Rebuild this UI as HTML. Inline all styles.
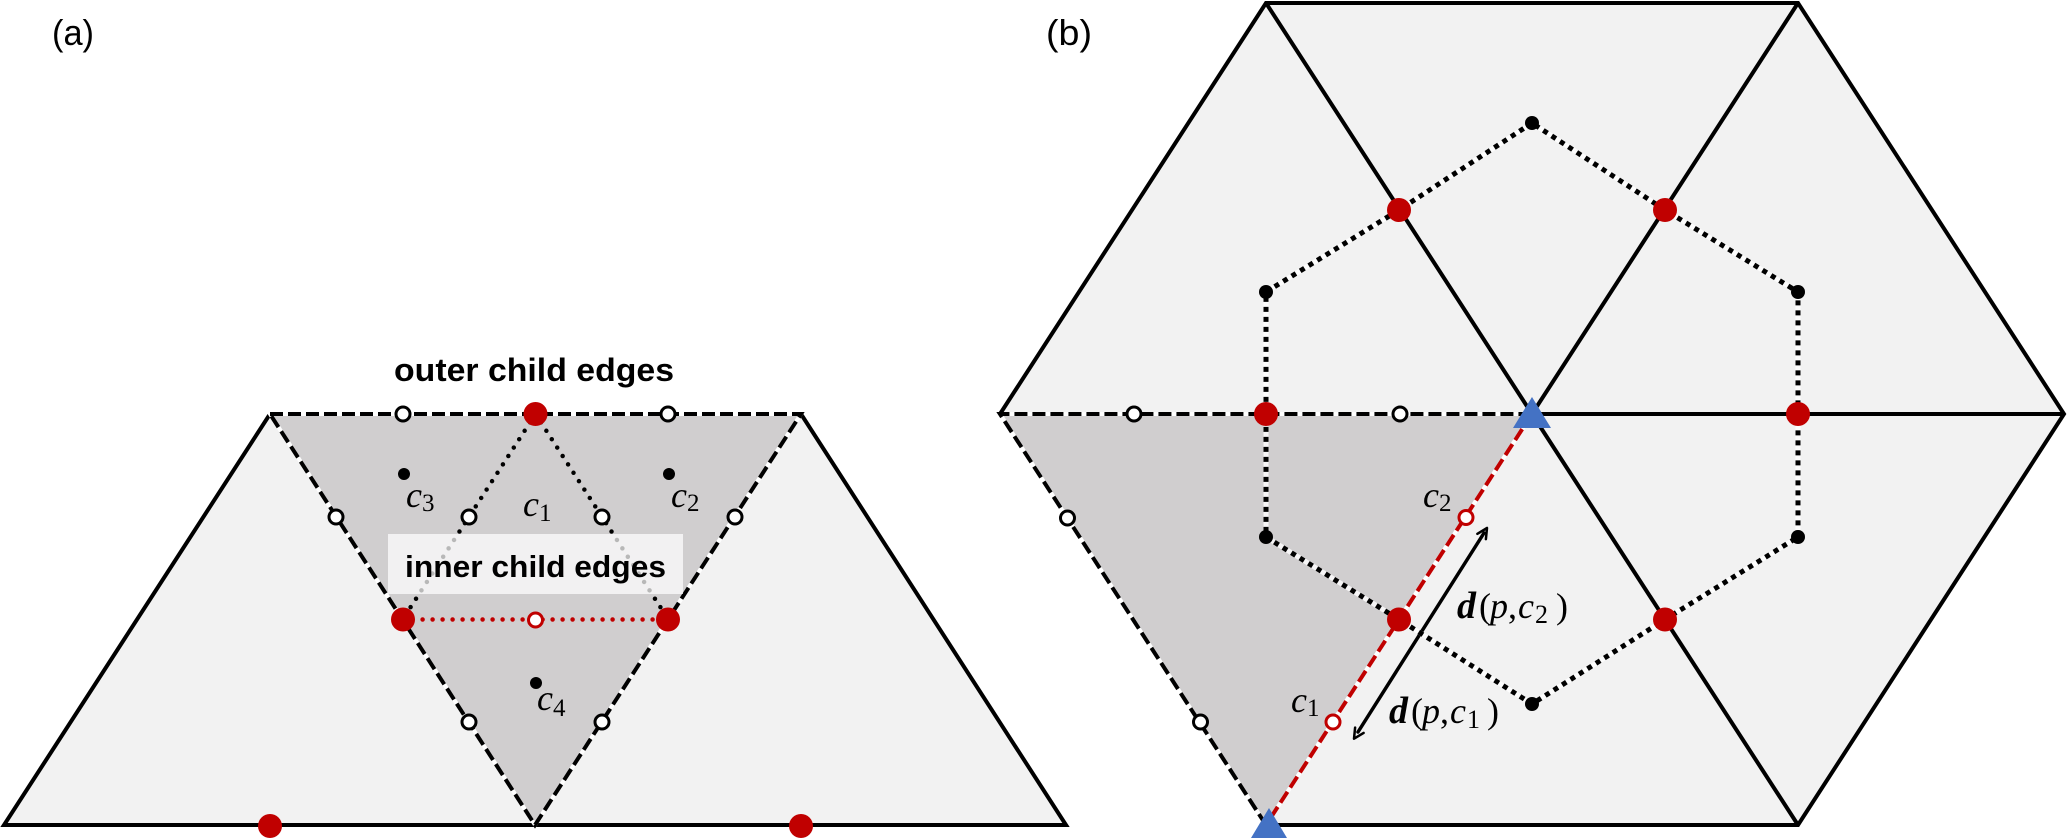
<!DOCTYPE html>
<html><head><meta charset="utf-8"><style>
html,body{margin:0;padding:0;background:#fff;}
svg{display:block;}
.lbl{font-family:"Liberation Sans",sans-serif;}
.b{font-family:"Liberation Sans",sans-serif;font-weight:bold;}
.m{font-family:"Liberation Serif",serif;}
</style></head><body>
<svg width="2067" height="840" viewBox="0 0 2067 840" xmlns="http://www.w3.org/2000/svg">
<rect width="2067" height="840" fill="#fff"/>

<!-- ============ PANEL (a) ============ -->
<text class="lbl" x="52" y="45" font-size="36" textLength="42" lengthAdjust="spacingAndGlyphs">(a)</text>

<polygon points="4,825 270,414 535,825" fill="#f2f2f2"/>
<polygon points="535,825 801,414 1066,825" fill="#f2f2f2"/>
<polygon points="270,414 801,414 535,825" fill="#d0cecf"/>

<path d="M270,414 L4,825 L1066,825 L801,414" fill="none" stroke="#000" stroke-width="4" stroke-linejoin="miter"/>
<g fill="none" stroke-width="4">
<path d="M270,414 L801,414 L535,825 Z" stroke="#fff"/>
<path d="M270,414 L801,414 L535,825 Z" stroke="#000" stroke-dasharray="13 5"/>
</g>

<g fill="none" stroke-width="4.5" stroke-linecap="round">
<path d="M535.5,414 L402.6,619.5 M535.5,414 L668.4,619.5" stroke="#000" stroke-dasharray="0 10"/>
<path d="M402.6,619.5 L668.4,619.5" stroke="#c00000" stroke-dasharray="0 10"/>
</g>

<rect x="388" y="534" width="295" height="60" fill="#fff" fill-opacity="0.72"/>
<text class="b" x="405" y="577" font-size="31" textLength="261" lengthAdjust="spacingAndGlyphs">inner child edges</text>
<text class="b" x="394" y="381" font-size="32" textLength="280" lengthAdjust="spacingAndGlyphs">outer child edges</text>

<g fill="#fff" stroke="#000" stroke-width="3">
<circle cx="403" cy="414" r="7"/>
<circle cx="668" cy="414" r="7"/>
<circle cx="336" cy="517" r="7"/>
<circle cx="469" cy="722" r="7"/>
<circle cx="735" cy="517" r="7"/>
<circle cx="602" cy="722" r="7"/>
<circle cx="469" cy="517" r="7"/>
<circle cx="602" cy="517" r="7"/>
</g>
<circle cx="535.5" cy="620" r="7" fill="#fff" stroke="#c00000" stroke-width="3"/>

<g fill="#c00000">
<circle cx="535.5" cy="414" r="12"/>
<circle cx="403" cy="619.5" r="12"/>
<circle cx="668" cy="619.5" r="12"/>
<circle cx="270" cy="826" r="12"/>
<circle cx="801" cy="826" r="12"/>
</g>

<g fill="#000">
<circle cx="404" cy="474" r="6"/>
<circle cx="669" cy="474" r="6"/>
<circle cx="536" cy="683" r="6"/>
</g>

<g class="m" font-size="36">
<text x="406" y="507"><tspan font-style="italic">c</tspan><tspan font-size="25" dy="4">3</tspan></text>
<text x="523" y="516"><tspan font-style="italic">c</tspan><tspan font-size="25" dy="5">1</tspan></text>
<text x="671" y="507"><tspan font-style="italic">c</tspan><tspan font-size="25" dy="4">2</tspan></text>
<text x="537" y="710"><tspan font-style="italic">c</tspan><tspan font-size="25" dy="6">4</tspan></text>
</g>

<!-- ============ PANEL (b) ============ -->
<text class="lbl" x="1046" y="45" font-size="36" textLength="46" lengthAdjust="spacingAndGlyphs">(b)</text>

<polygon points="1000,414 1266,3 1798,3 2064,414 1798,825 1266,825" fill="#f2f2f2"/>
<polygon points="1000,414 1532,414 1266,825" fill="#d0cecf"/>

<g fill="none" stroke="#000" stroke-width="4" stroke-linejoin="miter">
<path d="M1000,414 L1266,3 L1798,3 L2064,414 L1798,825 L1266,825"/>
<path d="M1266,3 L1532,414 L1798,3"/>
<path d="M1532,414 L2064,414"/>
<path d="M1532,414 L1798,825"/>
</g>

<g fill="none" stroke-width="4">
<path d="M1266,825 L1000,414 L1532,414" stroke="#fff"/>
<path d="M1266,825 L1000,414 L1532,414" stroke="#000" stroke-dasharray="13 5"/>
<path d="M1532,414 L1266,825" stroke="#fff"/>
<path d="M1532,414 L1266,825" stroke="#c00000" stroke-dasharray="13 5"/>
</g>

<g fill="none" stroke="#000" stroke-linecap="round" stroke-linejoin="round">
<line x1="1358" y1="732" x2="1484" y2="533" stroke-width="3.5"/>
<path d="M1477.4,533.8 L1487,528 L1485.9,539.1" stroke-width="2.5"/>
<path d="M1363.6,732.9 L1354,738.7 L1355.1,727.6" stroke-width="2.5"/>
</g>

<g fill="none" stroke-width="5">
<path d="M1532,123 L1399,210 L1266,292 L1266,414 L1266,537 L1399,619.5 L1532,704 L1665,619.5 L1798,537 L1798,414 L1798,292 L1665,210 Z" stroke="#fff" stroke-opacity="0.8"/>
<path d="M1532,123 L1399,210 L1266,292 L1266,414 L1266,537 L1399,619.5 L1532,704 L1665,619.5 L1798,537 L1798,414 L1798,292 L1665,210 Z" stroke="#000" stroke-dasharray="5 5"/>
</g>

<g fill="#fff" stroke="#000" stroke-width="3">
<circle cx="1134" cy="414" r="7"/>
<circle cx="1400" cy="414" r="7"/>
<circle cx="1067.5" cy="518" r="7"/>
<circle cx="1200.5" cy="722" r="7"/>
</g>
<g fill="#fff" stroke="#c00000" stroke-width="3">
<circle cx="1466" cy="517.5" r="7"/>
<circle cx="1333" cy="722" r="7"/>
</g>

<g fill="#c00000">
<circle cx="1399" cy="210" r="12"/>
<circle cx="1665" cy="210" r="12"/>
<circle cx="1266" cy="414" r="12"/>
<circle cx="1798" cy="414" r="12"/>
<circle cx="1399" cy="619.5" r="12"/>
<circle cx="1665" cy="619.5" r="12"/>
</g>

<g fill="#000">
<circle cx="1532" cy="123" r="7"/>
<circle cx="1266" cy="292" r="7"/>
<circle cx="1798" cy="292" r="7"/>
<circle cx="1266" cy="537" r="7"/>
<circle cx="1798" cy="537" r="7"/>
<circle cx="1532" cy="704" r="7"/>
</g>

<polygon points="1532,397 1513,428 1551,428" fill="#4472c4"/>
<polygon points="1269,808 1251,838 1287,838" fill="#4472c4"/>

<g class="m" font-size="36">
<text x="1423" y="507"><tspan font-style="italic">c</tspan><tspan font-size="25" dy="4">2</tspan></text>
<text x="1291" y="712"><tspan font-style="italic">c</tspan><tspan font-size="25" dy="4">1</tspan></text>

<text y="618">
<tspan x="1457" font-style="italic" font-weight="bold" font-size="38">d</tspan><tspan x="1479">(</tspan><tspan x="1490" font-style="italic">p</tspan><tspan x="1508">,</tspan><tspan x="1518" font-style="italic">c</tspan><tspan x="1535" font-size="26" dy="5">2</tspan><tspan x="1556" dy="-5">)</tspan>
</text>
<text y="723">
<tspan x="1389" font-style="italic" font-weight="bold" font-size="38">d</tspan><tspan x="1411">(</tspan><tspan x="1422" font-style="italic">p</tspan><tspan x="1440">,</tspan><tspan x="1450" font-style="italic">c</tspan><tspan x="1467" font-size="26" dy="5">1</tspan><tspan x="1487" dy="-5">)</tspan>
</text>
</g>

</svg>
</body></html>
